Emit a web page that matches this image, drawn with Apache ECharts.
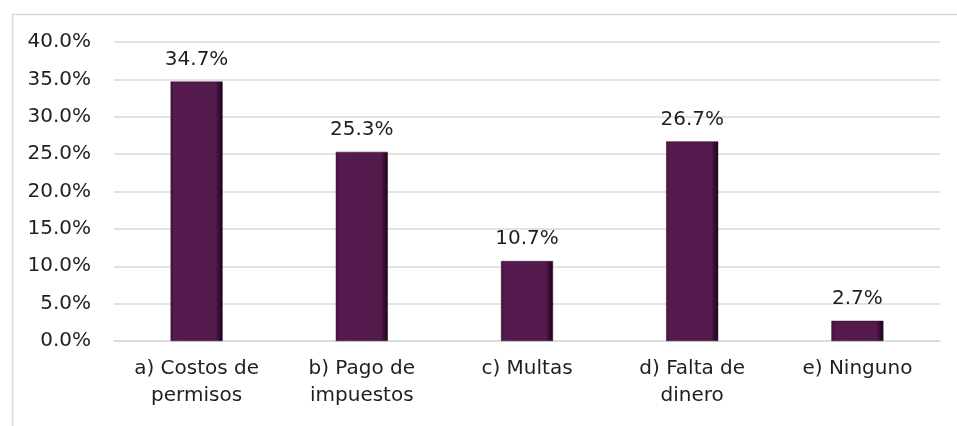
<!DOCTYPE html>
<html>
<head>
<meta charset="utf-8">
<script src="https://cdn.jsdelivr.net/npm/echarts@6/dist/echarts.min.js"></script>
<style>
  html, body { margin: 0; padding: 0; background: #fff; }
  #chart { width: 957px; height: 426px; }
</style>
</head>
<body>
<div id="chart"></div>
<script>
// valores (porcentaje)
const categories = [
  "a) Costos de\npermisos",
  "b) Pago de\nimpuestos",
  "c) Multas",
  "d) Falta de\ndinero",
  "e) Ninguno",
];
const values = [34.7, 25.3, 10.7, 26.7, 2.7];

const FONT = '"DejaVu Sans", Verdana, sans-serif';
const INK = "#1f1f1f";
const GRID = "#d9d9d9";

// relleno con bisel: borde izquierdo algo oscuro, derecho muy oscuro
const barColor = new echarts.graphic.LinearGradient(0, 0, 1, 0, [
  { offset: 0, color: "#44123e" },
  { offset: 0.07, color: "#561a4e" },
  { offset: 0.86, color: "#541a4c" },
  { offset: 0.94, color: "#340b30" },
  { offset: 1, color: "#180316" },
]);

const chart = echarts.init(document.getElementById("chart"), null, { renderer: "canvas" });
chart.setOption({
  animation: false,
  textStyle: { fontFamily: FONT, color: INK },
  graphic: [
    {
      type: "rect",
      left: 10, top: 12,
      shape: { width: 960, height: 430 },
      style: { fill: "none", stroke: GRID, lineWidth: 1.5 },
      silent: true,
    },
  ],
  grid: { left: 114, right: 17, top: 42, bottom: 85 },
  xAxis: {
    type: "category",
    data: categories,
    axisLine: { lineStyle: { color: GRID, width: 1.5 } },
    axisTick: { show: false },
    axisLabel: {
      color: INK, fontFamily: FONT, fontSize: 20, lineHeight: 27, margin: 14,
      interval: 0,
    },
  },
  yAxis: {
    type: "value",
    min: 0, max: 40, interval: 5,
    axisLine: { show: false },
    axisTick: { show: false },
    splitLine: { lineStyle: { color: GRID, width: 1.5 } },
    axisLabel: {
      color: INK, fontFamily: FONT, fontSize: 20, margin: 23,
      formatter: (v) => v.toFixed(1) + "%",
    },
  },
  series: [
    {
      type: "bar",
      data: values,
      barWidth: 52,
      itemStyle: { color: barColor, borderColor: "#2a0826", borderWidth: 0.5 },
      label: {
        show: true, position: "top", distance: 12,
        color: INK, fontFamily: FONT, fontSize: 20,
        formatter: (p) => p.value.toFixed(1) + "%",
      },
    },
  ],
});
</script>
</body>
</html>
